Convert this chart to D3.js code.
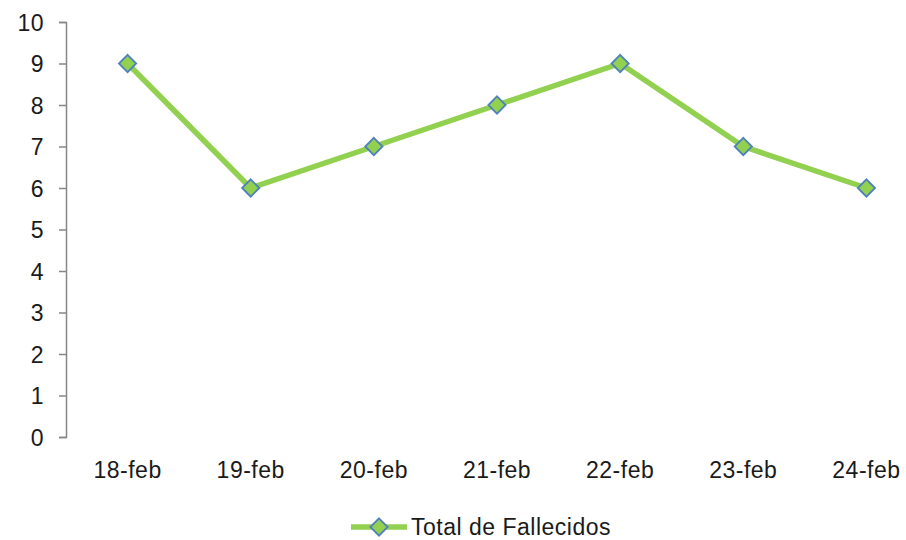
<!DOCTYPE html>
<html>
<head>
<meta charset="utf-8">
<script src="https://cdn.jsdelivr.net/npm/d3@7"></script>
<style>
  body { margin: 0; background: #fff; }
  text { font-family: "Liberation Sans", Arial, sans-serif; fill: #1a1a1a; letter-spacing: 0.5px; }
</style>
</head>
<body>
<script>
var categories = ["18-feb", "19-feb", "20-feb", "21-feb", "22-feb", "23-feb", "24-feb"];
var fallecidos = [9, 6, 7, 8, 9, 7, 6];
var yTicks = [0, 1, 2, 3, 4, 5, 6, 7, 8, 9, 10];
var seriesName = "Total de Fallecidos";

var width = 906;
var height = 540;
var lineColor = "#92d050";
var markerStroke = "#4f81bd";

var svg = d3.select("body").append("svg")
    .attr("width", width)
    .attr("height", height);

var xScale = d3.scaleBand()
    .domain(categories)
    .range([66, 928]);

var yScale = d3.scaleLinear()
    .domain([0, 10])
    .range([437, 22]);

// y axis
var yAxis = svg.append("g")
    .attr("transform", "translate(66,0)")
    .call(d3.axisLeft(yScale).tickValues(yTicks).tickFormat(d3.format("d"))
        .tickSize(7).tickSizeOuter(7).tickPadding(15));
yAxis.selectAll("path, line").attr("stroke", "#868686").attr("stroke-width", 1.5);
yAxis.selectAll("text").style("font-size", "23px").attr("dy", "0.36em")
    .style("font-family", "'Liberation Sans', Arial, sans-serif").attr("fill", "#1a1a1a");

// x labels
var xAxis = svg.append("g")
    .attr("transform", "translate(0,437)")
    .call(d3.axisBottom(xScale).tickSize(0).tickPadding(25));
xAxis.select(".domain").remove();
xAxis.selectAll("text").style("font-size", "23px")
    .style("font-family", "'Liberation Sans', Arial, sans-serif").attr("fill", "#1a1a1a");

var xc = function(d, i) { return xScale(categories[i]) + xScale.bandwidth() / 2; };

var line = d3.line()
    .x(function(d, i) { return xc(d, i); })
    .y(function(d) { return yScale(d); });

svg.append("path")
    .datum(fallecidos)
    .attr("fill", "none")
    .attr("stroke", lineColor)
    .attr("stroke-width", 5.5)
    .attr("stroke-linejoin", "round")
    .attr("d", line);

var diamond = d3.symbol().type(d3.symbolDiamond2).size(190);

svg.selectAll(".marker")
    .data(fallecidos)
    .enter().append("path")
        .attr("class", "marker")
        .attr("d", diamond)
        .attr("transform", function(d, i) { return "translate(" + xc(d, i) + "," + yScale(d) + ")"; })
        .attr("fill", lineColor)
        .attr("stroke", markerStroke)
        .attr("stroke-width", 1.8);

// legend
var legend = svg.append("g").attr("transform", "translate(351,527)");
legend.append("line")
    .attr("x1", 0).attr("x2", 56).attr("y1", 0).attr("y2", 0)
    .attr("stroke", lineColor).attr("stroke-width", 5.5);
legend.append("path")
    .attr("d", diamond)
    .attr("transform", "translate(28,0)")
    .attr("fill", lineColor)
    .attr("stroke", markerStroke)
    .attr("stroke-width", 1.8);
legend.append("text")
    .attr("x", 60)
    .attr("dy", "0.36em")
    .style("font-size", "23px")
    .text(seriesName);
</script>
</body>
</html>
